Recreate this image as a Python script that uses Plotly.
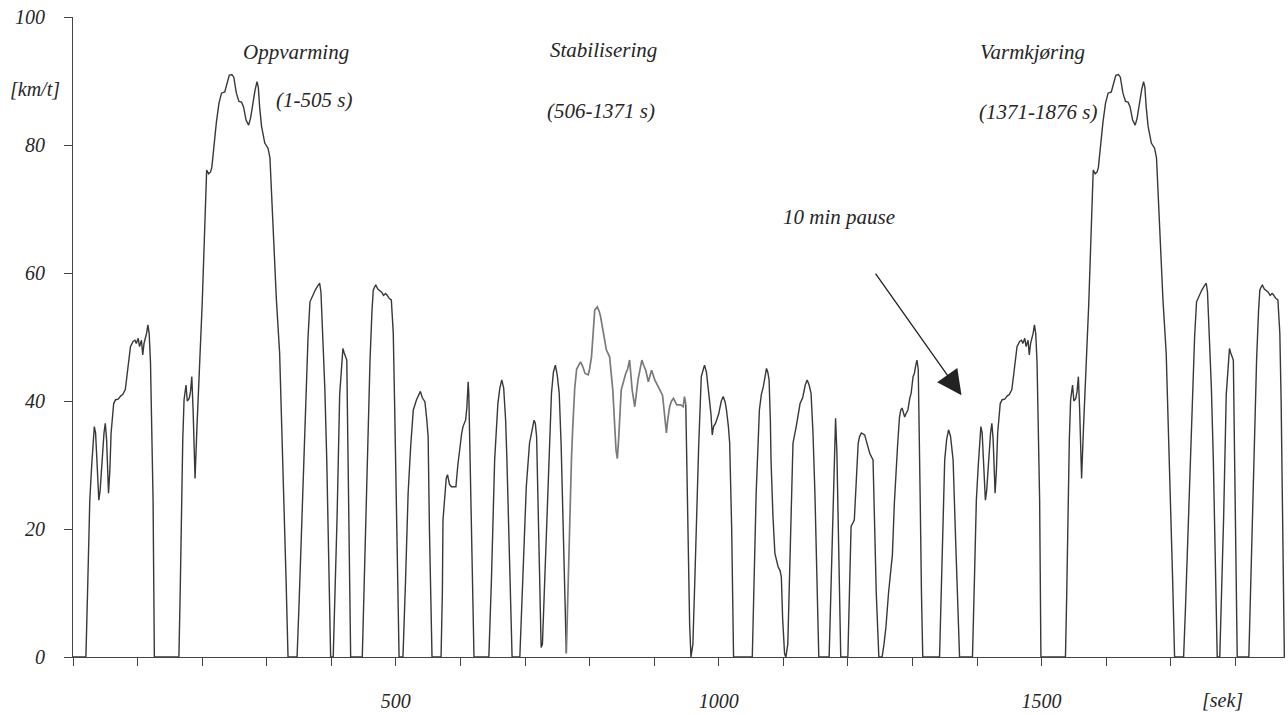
import plotly.graph_objects as go

# ---- Data ----
# Phase 1: cold start "Oppvarming" (local seconds, km/h)
cold_t = [0, 20, 23, 26, 29, 33, 35, 37, 40, 42, 45, 48, 50, 52, 55, 57, 59, 61, 63, 66, 70, 74, 77, 81, 83, 85, 89,
          93, 96, 98, 101, 103, 106, 108, 110, 112.5, 114, 116, 118, 120, 121, 124, 126,
          164, 166, 168, 170, 172, 174, 175, 177, 180, 182, 184, 186, 188, 189, 192, 195, 197, 200, 203, 206, 207,
          210, 213, 215, 218, 222, 226, 230, 235, 238, 242, 246, 249, 253, 257, 261, 264, 268, 272, 275, 278, 282,
          285, 287, 289, 292, 297, 302, 305, 307, 310, 315, 320, 325, 330, 333,
          347, 350, 354, 358, 361, 364, 367, 371, 375, 379, 382, 384, 387, 390, 393, 396, 399,
          403, 406, 409, 413, 416, 418, 420, 422, 424, 426, 428, 430,
          448, 451, 455, 460, 463, 465, 467, 469, 472, 475, 478, 481, 484, 486, 490, 493, 495, 496, 498, 501, 504, 505]
cold_v = [0, 0, 12, 24.5, 30, 36, 35, 30, 24.5, 26, 31, 35, 36.5, 34, 25.6, 29, 35, 38, 39.6, 40.2, 40.3, 40.8, 41, 41.8, 43.5, 45.4, 48.5,
          49.3, 49.5, 49, 49.8, 48.5, 49.5, 47.2, 49, 50, 50.6, 51.9, 50.5, 46, 40.2, 24.5, 0,
          0, 10, 25.6, 34, 40.2, 41.5, 42.5, 40, 40.4, 41.5, 43.8, 38.6, 31, 27.9, 36, 43, 46.4, 55, 64, 72, 76.1,
          75.5, 75.8, 76.5, 80, 83.5, 86.5, 88.1, 88.3, 89.5, 90.9, 91, 90.6, 88.1, 86.8, 86.7, 86, 83.9, 83.1, 84.2, 86.3, 88.6,
          89.9, 89, 86, 82.9, 80.3, 79.5, 78, 73.5, 66, 55.8, 47.5, 30.8, 12, 0,
          0, 8, 20.4, 33, 41.2, 50, 55.5, 56.5, 57.3, 58, 58.4, 57, 50.6, 42, 30.8, 15, 0,
          0, 10, 22, 41, 46, 48.2, 47.5, 47, 46.4, 30.8, 14, 0,
          0, 12, 30.8, 46.4, 54, 57.3, 57.8, 58.1, 57.5, 57.3, 57, 56.5, 56.8, 56.6, 56, 55.8, 53, 50.6, 40, 20.4, 5, 0]

# Phase 2: "Stabilisering" (absolute seconds, km/h) - dark parts
stab_a_t = [505, 511, 515, 519, 523, 527, 532, 536, 538, 541, 545, 548, 550, 552, 554, 556,
            570, 572, 573, 576, 578, 580, 583, 586, 590, 593, 596, 599, 602, 604, 608, 610, 612, 613, 615, 618, 621,
            644, 648, 653, 656, 658, 661, 664, 667, 670, 672, 676, 680,
            692, 697, 702, 707, 711, 714, 716, 718, 720, 722, 725, 727, 729, 733, 737, 741, 744, 747, 750, 753, 756,
            758, 761, 764]
stab_a_v = [0, 0, 12, 25.6, 33, 38.6, 40.2, 41, 41.5, 40.5, 39.9, 37, 34.4, 20, 8, 0,
            0, 10, 21.4, 26, 27.9, 28.5, 27, 26.6, 26.6, 26.6, 30, 32.9, 35, 36, 37, 39, 43, 41, 30.8, 15, 0,
            0, 12, 30.8, 36, 39.6, 42, 43.3, 42, 37, 30.8, 15, 0,
            0, 14, 26.6, 33.4, 35.5, 37, 36.5, 34.4, 25, 15.2, 1.5, 2, 8, 20.4, 32, 41.2, 44.5, 45.6, 44, 41.2, 33,
            25.6, 12, 0.6]

# Phase 2: lighter (grey) section of the scan
stab_b_t = [764, 767, 769, 772, 774, 777, 780, 782, 786, 789, 793, 798, 800, 803, 806, 808, 812, 815, 817, 821,
            826, 831, 836, 839, 841, 843, 845, 849, 852, 856, 859, 862, 866, 870, 875, 878, 881, 884, 887, 891,
            896, 901, 906, 910, 913, 916, 919, 921, 924, 927, 930, 935, 941, 945, 947, 949]
stab_b_v = [0.6, 12, 23, 31, 36, 42, 45, 45.4, 46.1, 45.5, 44.3, 44.1, 45, 46.9, 51, 54.2, 54.7, 54, 53.2, 51.1,
            48, 46.9, 41.7, 36, 32.3, 31, 34, 41.7, 43, 44.3, 45, 46.4, 41.7, 39.1, 43.3, 45, 46.4, 45.5, 44.8, 43,
            44.8, 43.3, 42.2, 41.5, 40.9, 38, 35, 37, 39.1, 40, 40.4, 39.4, 39.4, 39.1, 40.7, 39.5]

stab_c_t = [949, 952, 955, 957, 960, 963, 965, 969, 973, 976, 978, 981, 985, 988, 990, 992, 995, 997, 1000, 1004,
            1007, 1010, 1012, 1015, 1017, 1020, 1023,
            1052, 1055, 1058, 1063, 1066, 1069, 1072, 1074, 1076, 1078, 1080, 1081, 1084, 1087, 1092, 1095, 1097,
            1099, 1102, 1104, 1107, 1110, 1113, 1115, 1120, 1123, 1126, 1130, 1134, 1137, 1140, 1143, 1146, 1149,
            1152, 1155,
            1171, 1174, 1177, 1179, 1181, 1183, 1185, 1187, 1189,
            1200, 1203, 1205, 1210, 1213, 1216, 1218, 1221, 1226, 1230, 1234, 1239, 1241, 1244, 1248,
            1253, 1256, 1259, 1263, 1267, 1269, 1272, 1275, 1277, 1280, 1282, 1284, 1286, 1288, 1290, 1293, 1296,
            1298, 1301, 1303, 1305, 1307, 1309, 1310, 1312, 1314, 1316,
            1342, 1345, 1350, 1353, 1356, 1359, 1363, 1367, 1371, 1373]
stab_c_v = [39.5, 20, 5, 0, 2, 12, 20.4, 33, 43.8, 45.2, 45.6, 44.5, 41.2, 38, 34.7, 36, 36.5, 37, 38, 40,
            40.7, 39.8, 38.6, 36, 33.4, 20.4, 0,
            0, 12, 25.6, 38.6, 41, 42.2, 44, 45.1, 44.5, 43.3, 37, 30.8, 22, 16.2, 14.1, 13.5, 12.5,
            6, 0.5, 0, 2, 15.2, 27, 33.4, 36, 38, 39.6, 40.5, 42.5, 43.3, 42.5, 41.2, 35, 25.6,
            12, 0,
            0, 12, 25.6, 33, 37.3, 32, 23, 10, 0,
            0, 12, 20.4, 21.4, 28, 33.4, 34.4, 35, 34.7, 33, 31.8, 30.8, 22, 10, 0,
            0, 2, 4.7, 10, 14.1, 16, 24, 30.8, 33, 37.5, 38.6, 38.9, 38, 37.5, 38, 38.6, 40.5,
            41.2, 43.8, 44.3, 45.5, 46.4, 45, 40, 25, 10, 0,
            0, 12, 30.8, 34, 35.5, 34.5, 30.8, 18, 5, 0]

# Phase 3: hot start "Varmkjøring" (local seconds after its start, km/h)
hot_start = 1373
hot_t = [0, 20, 23, 26, 29, 33, 35, 37, 40, 42, 45, 48, 50, 52, 55, 57, 59, 61, 63, 66, 70, 74, 77, 81, 83, 85, 89,
         93, 96, 98, 101, 103, 106, 108, 110, 112.5, 114, 116, 118, 120, 121, 124, 126,
         164, 166, 168, 170, 172, 174, 175, 177, 180, 182, 184, 186, 188, 189, 192, 195, 197, 200, 203, 206, 207,
         210, 213, 215, 218, 222, 226, 230, 235, 238, 242, 246, 249, 253, 257, 261, 264, 268, 272, 275, 278, 282,
         285, 287, 289, 292, 297, 302, 305, 307, 310, 315, 320, 325, 330, 333,
         347, 350, 354, 358, 361, 364, 367, 371, 375, 379, 382, 384, 387, 390, 393, 396, 399,
         403, 406, 409, 413, 416, 418, 420, 422, 424, 426, 428, 430,
         448, 451, 455, 460, 463, 465, 467, 469, 472, 475, 478, 481, 484, 486, 490, 493, 495, 496, 498, 501, 503]
hot_v = [0, 0, 12, 24.5, 30, 36, 35, 30, 24.5, 26, 31, 35, 36.5, 34, 25.6, 29, 35, 38, 39.6, 40.2, 40.3, 40.8, 41, 41.8, 43.5, 45.4, 48.5,
         49.3, 49.5, 49, 49.8, 48.5, 49.5, 47.2, 49, 50, 50.6, 51.9, 50.5, 46, 40.2, 24.5, 0,
         0, 10, 25.6, 34, 40.2, 41.5, 42.5, 40, 40.4, 41.5, 43.8, 38.6, 31, 27.9, 36, 43, 46.4, 55, 64, 72, 76.1,
         75.5, 75.8, 76.5, 80, 83.5, 86.5, 88.1, 88.3, 89.5, 90.9, 91, 90.6, 88.1, 86.8, 86.7, 86, 83.9, 83.1, 84.2, 86.3, 88.6,
         89.9, 89, 86, 82.9, 80.3, 79.5, 78, 73.5, 66, 55.8, 47.5, 30.8, 12, 0,
         0, 8, 20.4, 33, 41.2, 50, 55.5, 56.5, 57.3, 58, 58.4, 57, 50.6, 42, 30.8, 15, 0,
         0, 10, 22, 41, 46, 48.2, 47.5, 47, 46.4, 30.8, 14, 0,
         0, 12, 30.8, 46.4, 54, 57.3, 57.8, 58.1, 57.5, 57.3, 57, 56.5, 56.8, 56.6, 56, 55.8, 53, 50.6, 40, 20.4, 0]

y_ticks = [0, 20, 40, 60, 80, 100]
y_ticktext = ["0", "20", "40", "60", "80", "100"]
x_ticks = list(range(0, 1900, 100))
x_ticktext = ["" if v not in (500, 1000, 1500) else str(v) for v in x_ticks]

FONT = "Liberation Serif"
LINE = "#383838"
TXT = "#262626"

fig = go.Figure()
fig.add_trace(go.Scatter(x=cold_t, y=cold_v, mode="lines", line=dict(color=LINE, width=1.4), hoverinfo="skip"))
fig.add_trace(go.Scatter(x=stab_a_t, y=stab_a_v, mode="lines", line=dict(color=LINE, width=1.4), hoverinfo="skip"))
fig.add_trace(go.Scatter(x=stab_b_t, y=stab_b_v, mode="lines", line=dict(color="#7a7a7a", width=1.7), hoverinfo="skip"))
fig.add_trace(go.Scatter(x=stab_c_t, y=stab_c_v, mode="lines", line=dict(color=LINE, width=1.4), hoverinfo="skip"))
fig.add_trace(go.Scatter(x=[hot_start + t for t in hot_t], y=hot_v, mode="lines",
                         line=dict(color=LINE, width=1.4), hoverinfo="skip"))

fig.update_layout(
    width=1288, height=715,
    margin=dict(l=73, r=3, t=17, b=58, autoexpand=False),
    paper_bgcolor="white", plot_bgcolor="white",
    showlegend=False,
    font=dict(family=FONT, size=20, color=TXT),
    xaxis=dict(range=[0, 1877], showgrid=False, zeroline=False, showline=True, linecolor="#444", linewidth=1.3,
               ticks="outside", ticklen=8, tickcolor="#444", tickwidth=1.2, automargin=False,
               tickvals=x_ticks, ticktext=x_ticktext, ticklabelstandoff=18, ticklabeloverflow="allow",
               tickfont=dict(family=FONT, size=20, style="italic", color=TXT)),
    yaxis=dict(range=[0, 100], showgrid=False, zeroline=False, showline=True, linecolor="#444", linewidth=1.3,
               ticks="outside", ticklen=8, tickcolor="#444", tickwidth=1.2, automargin=False,
               tickvals=y_ticks, showticklabels=False),
)

# y tick labels (right-aligned, 26 px left of the axis line)
for val, lab in zip(y_ticks, y_ticktext):
    fig.add_annotation(x=-0.0215, y=val, xref="paper", yref="y", text=lab, showarrow=False,
                       xanchor="right", yanchor="middle",
                       font=dict(family=FONT, size=20, style="italic", color=TXT))

labels = [
    ("Oppvarming", 345, 94.6),
    ("(1-505 s)", 373, 87.0),
    ("Stabilisering", 822, 94.8),
    ("(506-1371 s)", 818, 85.3),
    ("Varmkjøring", 1486, 94.6),
    ("(1371-1876 s)", 1495, 85.2),
    ("10 min pause", 1187, 68.8),
]
for txt, x, y in labels:
    fig.add_annotation(x=x, y=y, xref="x", yref="y", text=txt, showarrow=False,
                       font=dict(family=FONT, size=21, style="italic", color=TXT))

fig.add_annotation(x=-0.0314, y=88.8, xref="paper", yref="y", text="[km/t]", showarrow=False,
                   xanchor="center", yanchor="middle",
                   font=dict(family=FONT, size=20, style="italic", color=TXT))
fig.add_annotation(x=1780, y=-0.067, xref="x", yref="paper", text="[sek]", showarrow=False,
                   xanchor="center", yanchor="middle",
                   font=dict(family=FONT, size=20, style="italic", color=TXT))

# arrow pointing to the pause
fig.add_annotation(x=1376, y=40.9, xref="x", yref="y", text="", showarrow=True,
                   ax=-87, ay=-123, axref="pixel", ayref="pixel",
                   arrowhead=2, arrowsize=3.8, arrowwidth=1.3, arrowcolor="#222", standoff=0)

# remove the default 8px page margin so the 1288x715 figure fills the window exactly
fig.write_html("out.html", config={"displayModeBar": False},
               post_script="document.body.style.margin='0px';")
